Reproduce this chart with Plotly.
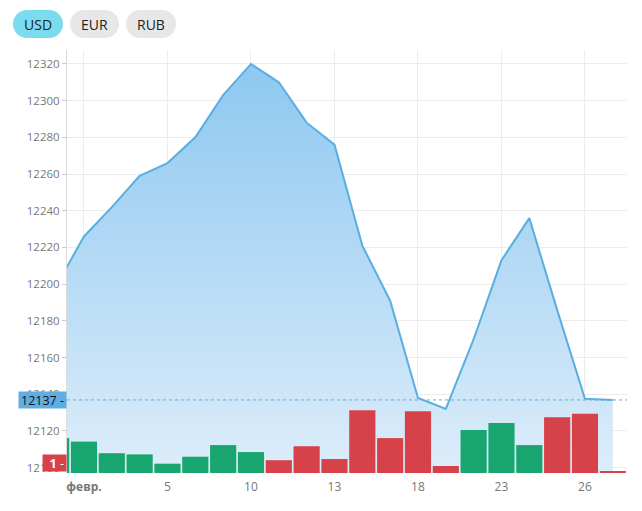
import plotly.graph_objects as go

# ---- data ----
dates = ["30.01", "01.02", "03.02", "04.02", "05.02", "06.02", "09.02", "10.02",
         "11.02", "12.02", "13.02", "16.02", "17.02", "18.02", "19.02", "20.02",
         "23.02", "24.02", "25.02", "26.02", "27.02"]
rates = [12199, 12226, 12242, 12259, 12266, 12280, 12303, 12320, 12310, 12288,
         12276, 12221, 12191, 12138, 12132, 12170, 12213, 12236, 12186, 12137.6, 12136.9]
changes = [30, 27, 17, 16, 8, 14, 24, 18, -11, -23, -12, -54, -30, -53, -6,
           37, 43, 24, -48, -51, -1]
tick_dates = ["01.02", "05.02", "10.02", "13.02", "18.02", "23.02", "26.02"]
tick_labels = ["<b>февр.</b>", "5", "10", "13", "18", "23", "26"]
y_ticks = list(range(12100, 12321, 20))
currencies = ["USD", "EUR", "RUB"]
active_currency = "USD"

# ---- styles ----
LINE = "#5aaee0"
GREEN = "#18a56f"
RED = "#d6414a"
GRID = "#ececec"
FONT = "Open Sans"
PAGE_OFFSET = 8  # browser body margin

fig = go.Figure()

fig.add_trace(go.Scatter(
    x=dates, y=rates, mode="lines", line=dict(color=LINE, width=2),
    fill="tozeroy",
    fillgradient=dict(type="vertical",
                      colorscale=[[0, "#ddedfa"], [1, "#8cc7f0"]],
                      start=12097, stop=12325),
    hoverinfo="skip", showlegend=False, yaxis="y",
))

fig.add_trace(go.Bar(
    x=dates, y=[abs(c) for c in changes],
    marker=dict(color=[GREEN if c >= 0 else RED for c in changes], line=dict(width=0)),
    yaxis="y2", showlegend=False, hoverinfo="skip",
))

fig.add_shape(type="line", xref="paper", x0=0, x1=1, yref="y",
              y0=rates[-1], y1=rates[-1],
              line=dict(color=LINE, width=1, dash="3px,3px"))

fig.add_annotation(x=0, xref="paper", xanchor="right", y=rates[-1], yref="y",
                   yanchor="middle",
                   text=f"{rates[-1]:.0f} -", showarrow=False,
                   bgcolor="#5eaee4", borderpad=2, width=43, height=12, align="right",
                   font=dict(family=FONT, size=12.5, color="#111"))
fig.add_annotation(x=0, xref="paper", xanchor="right", y=abs(changes[-1]), yref="y2",
                   yanchor="bottom", text=f"<b>{abs(changes[-1])}</b> -", showarrow=False,
                   bgcolor=RED, borderpad=2, width=19, height=12, align="right",
                   font=dict(family=FONT, size=12.5, color="white"))

# currency pill buttons
btn_pos = [(-54, -4), (3, 52), (59, 109)]  # pixel offsets from plot left edge
for cur, (a, b) in zip(currencies, btn_pos):
    col = "#7bdcef" if cur == active_currency else "#e7e7e7"
    r = 14
    common = dict(xref="paper", yref="paper", xanchor=0, yanchor=1,
                  xsizemode="pixel", ysizemode="pixel", fillcolor=col,
                  line=dict(width=0), layer="above")
    fig.add_shape(type="rect", x0=a + r, x1=b - r, y0=12, y1=40, **common)
    fig.add_shape(type="circle", x0=a, x1=a + 2 * r, y0=12, y1=40, **common)
    fig.add_shape(type="circle", x0=b - 2 * r, x1=b, y0=12, y1=40, **common)
    fig.add_annotation(x=0, xref="paper", xshift=(a + b) / 2, xanchor="center",
                       y=1, yref="paper", yshift=26, yanchor="middle",
                       text=cur, showarrow=False,
                       font=dict(family=FONT, size=14, color="#222"))

fig.update_layout(
    width=642 - PAGE_OFFSET, height=511 - PAGE_OFFSET,
    margin=dict(l=67 - PAGE_OFFSET, r=15, t=50 - PAGE_OFFSET, b=38),
    paper_bgcolor="white", plot_bgcolor="white",
    bargap=0.06,
    font=dict(family=FONT, size=12, color="#777"),
    xaxis=dict(type="category", range=[0.39, 20.51],
               tickvals=tick_dates, ticktext=tick_labels,
               showgrid=True, gridcolor=GRID, zeroline=False, showline=False,
               ticks="", ticklabelstandoff=5,
               tickfont=dict(family=FONT, size=12, color="#777")),
    yaxis=dict(range=[12097.1, 12327.6], tickvals=y_ticks, tickformat="d",
               showgrid=True, gridcolor=GRID, zeroline=False,
               showline=True, linecolor="#dcdcdc", linewidth=1,
               ticks="outside", ticklen=4, tickcolor="#cccccc",
               tickfont=dict(family=FONT, size=11.5, color="#777")),
    yaxis2=dict(overlaying="y", range=[0, 363.7], visible=False),
)

fig.write_html("out.html")
